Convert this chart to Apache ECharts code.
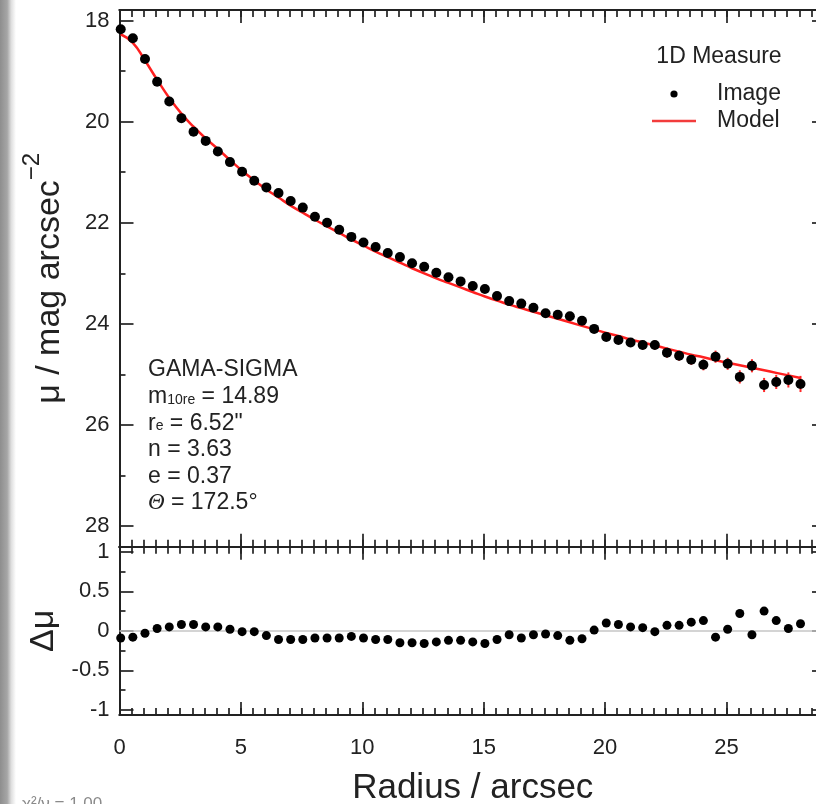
<!DOCTYPE html>
<html>
<head>
<meta charset="utf-8">
<script src="https://cdn.jsdelivr.net/npm/echarts@6/dist/echarts.min.js"></script>
<style>
  html, body { margin: 0; padding: 0; background: #fff; }
  #chart { width: 816px; height: 804px; }
</style>
</head>
<body>
<div id="chart"></div>
<script>
// Surface-brightness profile (1D measure) with Sersic model and residuals.
const radius = [
  0.05, 0.55, 1.05, 1.55, 2.05, 2.55, 3.05, 3.55, 4.05, 4.55,
  5.05, 5.55, 6.05, 6.55, 7.05, 7.55, 8.05, 8.55, 9.05, 9.55,
  10.05, 10.55, 11.05, 11.55, 12.05, 12.55, 13.05, 13.55, 14.05, 14.55,
  15.05, 15.55, 16.05, 16.55, 17.05, 17.55, 18.05, 18.55, 19.05, 19.55,
  20.05, 20.55, 21.05, 21.55, 22.05, 22.55, 23.05, 23.55, 24.05, 24.55,
  25.05, 25.55, 26.05, 26.55, 27.05, 27.55, 28.05
];

// measured surface brightness (mag arcsec^-2)
const muImage = [
  18.17, 18.35, 18.76, 19.21, 19.60, 19.93, 20.20, 20.38, 20.59, 20.80,
  20.99, 21.17, 21.30, 21.41, 21.57, 21.70, 21.88, 22.00, 22.14, 22.28,
  22.39, 22.48, 22.60, 22.68, 22.80, 22.87, 22.99, 23.08, 23.16, 23.25,
  23.31, 23.45, 23.55, 23.60, 23.68, 23.79, 23.82, 23.85, 23.94, 24.10,
  24.26, 24.32, 24.37, 24.42, 24.42, 24.57, 24.63, 24.71, 24.81, 24.65,
  24.79, 25.05, 24.83, 25.21, 25.15, 25.11, 25.19
];

// measurement uncertainty (mag)
const muError = [
  0.01, 0.01, 0.01, 0.01, 0.01, 0.01, 0.01, 0.01, 0.02, 0.02,
  0.02, 0.02, 0.02, 0.02, 0.02, 0.03, 0.03, 0.03, 0.03, 0.03,
  0.03, 0.04, 0.04, 0.04, 0.04, 0.04, 0.05, 0.05, 0.05, 0.05,
  0.05, 0.06, 0.06, 0.06, 0.06, 0.07, 0.07, 0.07, 0.07, 0.08,
  0.08, 0.08, 0.09, 0.09, 0.09, 0.10, 0.10, 0.10, 0.11, 0.12,
  0.12, 0.13, 0.13, 0.14, 0.14, 0.15, 0.16
];

// model profile
const muModel = [
  18.27, 18.44, 18.79, 19.17, 19.53, 19.84, 20.10, 20.33, 20.54, 20.76,
  20.97, 21.16, 21.34, 21.50, 21.66, 21.80, 21.94, 22.07, 22.20, 22.33,
  22.45, 22.57, 22.68, 22.79, 22.90, 23.00, 23.10, 23.19, 23.28, 23.37,
  23.46, 23.54, 23.62, 23.69, 23.76, 23.83, 23.90, 23.97, 24.04, 24.11,
  24.18, 24.24, 24.31, 24.37, 24.43, 24.49, 24.55, 24.61, 24.66, 24.72,
  24.77, 24.82, 24.87, 24.92, 24.97, 25.02, 25.07
];

// residuals (image - model)
const deltaMu = [
  -0.09, -0.08, -0.03, 0.03, 0.05, 0.08, 0.08, 0.05, 0.05, 0.02,
  -0.01, -0.01, -0.06, -0.11, -0.11, -0.11, -0.09, -0.09, -0.09, -0.07,
  -0.09, -0.11, -0.11, -0.15, -0.15, -0.16, -0.14, -0.12, -0.12, -0.14,
  -0.16, -0.11, -0.05, -0.09, -0.05, -0.04, -0.06, -0.12, -0.10, 0.01,
  0.10, 0.08, 0.05, 0.04, -0.01, 0.07, 0.07, 0.11, 0.13, -0.08,
  0.02, 0.22, -0.05, 0.25, 0.13, 0.03, 0.09
];

// tick labels
const radiusTicks = [0, 5, 10, 15, 20, 25];
const muTicks = [18, 20, 22, 24, 26, 28];
const muMinorTicks = [19, 21, 23, 25, 27];
const deltaTicks = [-1, -0.5, 0, 0.5, 1];
const deltaMinorTicks = [-0.75, -0.25, 0.25, 0.75];

// fit parameters: [symbol, subscript, value]
const fitName = 'GAMA-SIGMA';
const fitParams = [
  ['m', '10re', '14.89'],
  ['r', 'e', '6.52"'],
  ['n', '', '3.63'],
  ['e', '', '0.37'],
  ['\u0398', '', '172.5\u00b0']
];
const legendTitle = '1D Measure';
const fitQuality = '\u03c7\u00b2/\u03bd = 1.00';

// axis ranges
const R_MIN = 0, R_MAX = 29.1;
const MU_MIN = 17.79, MU_MAX = 28.41;
const D_MIN = -1.065, D_MAX = 1.065;

const radiusMinorTicks = [];
for (let v = R_MIN; v <= R_MAX + 1e-9; v += 0.5) radiusMinorTicks.push(+v.toFixed(2));

const INK = '#222';
const FONT = "'Liberation Sans', Arial, Helvetica, sans-serif";

function baseAxis(extra) {
  return Object.assign({
    type: 'value',
    axisLine: { show: true, onZero: false, lineStyle: { color: INK, width: 2 } },
    axisLabel: { show: false },
    splitLine: { show: false }
  }, extra);
}
function ticks(values, len) {
  return { show: true, inside: true, length: len, customValues: values,
           lineStyle: { color: INK, width: 1.7 } };
}
const tickLabel = (values, margin) => ({
  show: true, customValues: values, margin: margin,
  fontFamily: FONT, fontSize: 22, color: INK
});

// x axes: per grid, bottom (minor, major) then top (minor, major)
const xAxes = [];
const yAxes = [];
[0, 1].forEach(g => {
  ['bottom', 'top'].forEach(pos => {
    xAxes.push(baseAxis({ gridIndex: g, position: pos, min: R_MIN, max: R_MAX,
                          axisTick: ticks(radiusMinorTicks, 7) }));
    xAxes.push(baseAxis({ gridIndex: g, position: pos, min: R_MIN, max: R_MAX,
                          axisTick: ticks(radiusTicks, 13) }));
  });
});
// x axis carrying the labels and title (residual panel, bottom)
Object.assign(xAxes[5], {
  axisLabel: tickLabel(radiusTicks, 22),
  name: 'Radius / arcsec', nameLocation: 'middle', nameGap: 56,
  nameTextStyle: { fontFamily: FONT, fontSize: 35, color: INK }
});

// profile panel y axes (magnitudes increase downward)
yAxes.push(baseAxis({ gridIndex: 0, position: 'left', inverse: true, min: MU_MIN, max: MU_MAX,
  axisTick: ticks(muTicks, 14), axisLabel: tickLabel(muTicks, 10),
  name: '{a|\u03bc / mag arcsec}{s|\u22122}', nameLocation: 'middle', nameGap: 53, nameRotate: 90,
  nameTextStyle: { rich: {
    a: { fontFamily: FONT, fontSize: 34, color: INK, verticalAlign: 'bottom' },
    s: { fontFamily: FONT, fontSize: 24, color: INK, verticalAlign: 'bottom', padding: [0, 0, 22, 0] }
  } } }));
yAxes.push(baseAxis({ gridIndex: 0, position: 'left', inverse: true, min: MU_MIN, max: MU_MAX,
  axisTick: ticks(muMinorTicks, 6) }));
yAxes.push(baseAxis({ gridIndex: 0, position: 'right', inverse: true, min: MU_MIN, max: MU_MAX,
  axisTick: ticks(muTicks, 14) }));
yAxes.push(baseAxis({ gridIndex: 0, position: 'right', inverse: true, min: MU_MIN, max: MU_MAX,
  axisTick: ticks(muMinorTicks, 6) }));
// residual panel y axes
yAxes.push(baseAxis({ gridIndex: 1, position: 'left', min: D_MIN, max: D_MAX,
  axisTick: ticks(deltaTicks, 14), axisLabel: tickLabel(deltaTicks, 10),
  name: '\u0394\u03bc', nameLocation: 'middle', nameGap: 53, nameRotate: 90,
  nameTextStyle: { fontFamily: FONT, fontSize: 34, color: INK } }));
yAxes.push(baseAxis({ gridIndex: 1, position: 'left', min: D_MIN, max: D_MAX,
  axisTick: ticks(deltaMinorTicks, 6) }));
yAxes.push(baseAxis({ gridIndex: 1, position: 'right', min: D_MIN, max: D_MAX,
  axisTick: ticks(deltaTicks, 14) }));
yAxes.push(baseAxis({ gridIndex: 1, position: 'right', min: D_MIN, max: D_MAX,
  axisTick: ticks(deltaMinorTicks, 6) }));

// parameter block as rich text
const paramLines = [fitName].concat(fitParams.map(([sym, sub, val]) => {
  const head = sym === '\u0398' ? '{th|' + sym + '}' : '{t|' + sym + '}';
  return head + (sub ? '{s|' + sub + '}' : '') + '{t| = ' + val + '}';
}));

const chart = echarts.init(document.getElementById('chart'), null, { renderer: 'canvas' });
chart.setOption({
  animation: false,
  backgroundColor: '#fff',
  grid: [
    { left: 119.5, top: 10, width: 706.5, height: 536.7, outerBoundsMode: 'none', containLabel: false },
    { left: 119.5, top: 546.7, width: 706.5, height: 168.3, outerBoundsMode: 'none', containLabel: false }
  ],
  xAxis: xAxes,
  yAxis: yAxes,
  series: [
    {
      type: 'custom', name: 'Image error', xAxisIndex: 0, yAxisIndex: 0, z: 1, silent: true,
      data: radius.map((r, i) => [r, muImage[i], muError[i]]),
      renderItem(params, api) {
        const x = api.value(0), y = api.value(1), e = api.value(2);
        const a = api.coord([x, y - e]), b = api.coord([x, y + e]);
        return { type: 'line', shape: { x1: a[0], y1: a[1], x2: b[0], y2: b[1] },
                 style: { stroke: '#ff2a2a', lineWidth: 2 } };
      }
    },
    {
      type: 'line', name: 'Model', xAxisIndex: 0, yAxisIndex: 0, z: 2,
      data: radius.map((r, i) => [r, muModel[i]]),
      smooth: true, showSymbol: false, symbol: 'none',
      lineStyle: { color: '#ff2020', width: 2.5, opacity: 1 }
    },
    {
      type: 'scatter', name: 'Image', xAxisIndex: 0, yAxisIndex: 0, z: 3,
      data: radius.map((r, i) => [r, muImage[i]]),
      symbolSize: 10, itemStyle: { color: '#000', opacity: 1 }
    },
    {
      type: 'scatter', name: 'Residual', xAxisIndex: 4, yAxisIndex: 4, z: 3,
      data: radius.map((r, i) => [r, deltaMu[i]]),
      symbolSize: 9, itemStyle: { color: '#000', opacity: 1 },
      markLine: {
        silent: true, symbol: 'none', z: 1, label: { show: false },
        lineStyle: { color: '#c6c6c6', width: 1.5, type: 'solid', opacity: 1 },
        data: [{ yAxis: 0 }]
      }
    }
  ],
  graphic: [
    // strip of the neighbouring panel along the left edge
    { type: 'rect', left: 0, top: 0, shape: { width: 16, height: 804 }, silent: true,
      style: { fill: new echarts.graphic.LinearGradient(0, 0, 1, 0, [
        { offset: 0, color: '#8e8e8e' }, { offset: 0.45, color: '#a6a6a6' },
        { offset: 0.7, color: '#dedede' }, { offset: 1, color: '#ffffff' }]) } },
    // legend
    { type: 'text', x: 719, y: 57, silent: true,
      style: { text: legendTitle, fontFamily: FONT, fontSize: 23, fill: INK, align: 'center', verticalAlign: 'middle' } },
    { type: 'circle', shape: { cx: 674, cy: 94, r: 3.6 }, silent: true, style: { fill: '#000' } },
    { type: 'text', x: 717, y: 94, silent: true,
      style: { text: 'Image', fontFamily: FONT, fontSize: 23, fill: INK, align: 'left', verticalAlign: 'middle' } },
    { type: 'line', shape: { x1: 652, y1: 121, x2: 696, y2: 121 }, silent: true,
      style: { stroke: '#f23c3c', lineWidth: 2.5 } },
    { type: 'text', x: 717, y: 121, silent: true,
      style: { text: 'Model', fontFamily: FONT, fontSize: 23, fill: INK, align: 'left', verticalAlign: 'middle' } },
    // fit parameters
    { type: 'text', x: 148, y: 356.7, silent: true,
      style: {
        text: paramLines.map((l, i) => i === 0 ? '{t|' + l + '}' : l).join('\n'),
        fontFamily: FONT, fontSize: 23, fill: INK, lineHeight: 26.6,
        rich: {
          t: { fontFamily: FONT, fontSize: 23, fill: INK, lineHeight: 26.6 },
          s: { fontFamily: FONT, fontSize: 14, fill: INK, verticalAlign: 'bottom', padding: [0, 0, 3, 0] },
          th: { fontFamily: "'Liberation Serif', 'DejaVu Serif', serif", fontStyle: 'italic',
                fontSize: 23, fill: INK, lineHeight: 26.6 }
        }
      } },
    { type: 'text', x: 22, y: 796, silent: true,
      style: { text: fitQuality, fontFamily: FONT, fontSize: 17, fill: '#8a8a8a', verticalAlign: 'top' } }
  ]
});
</script>
</body>
</html>
